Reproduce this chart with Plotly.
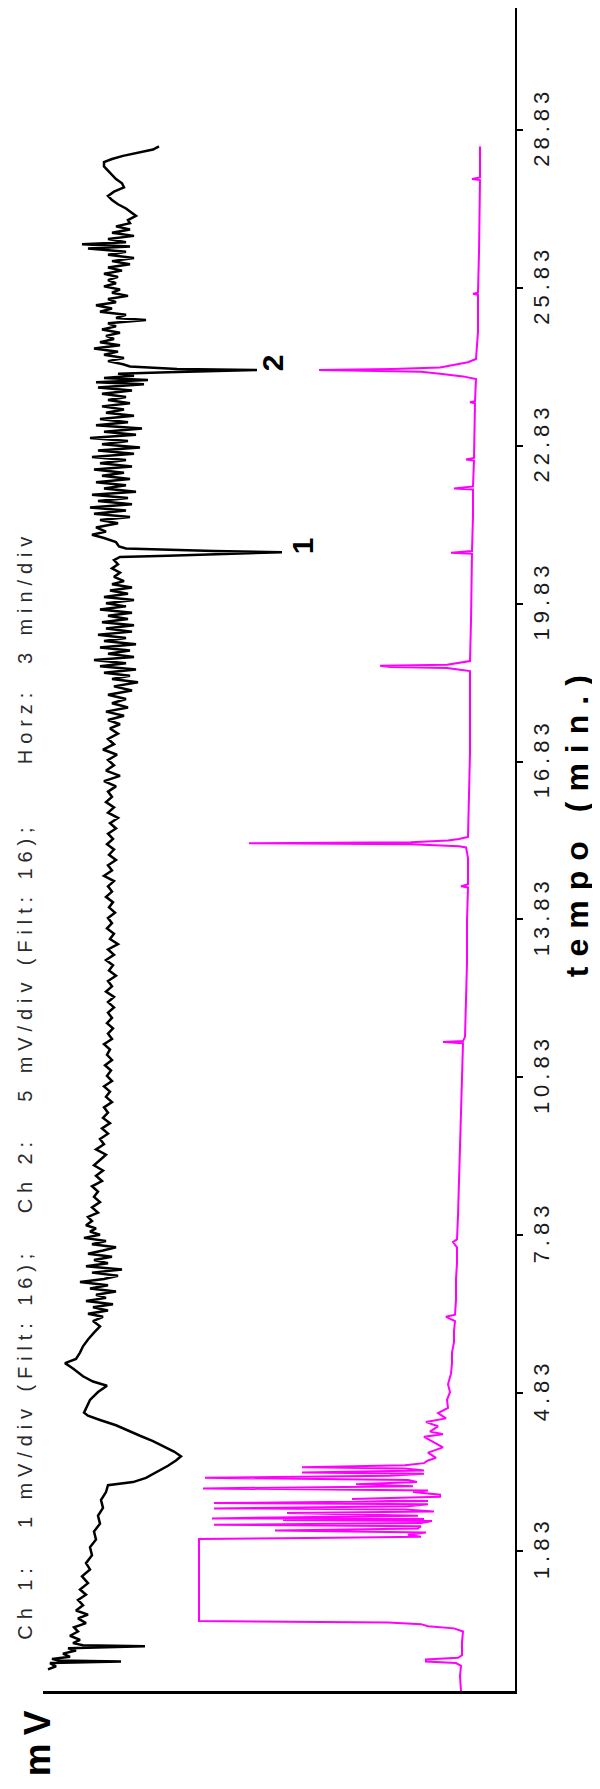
import plotly.graph_objects as go

# ---------------- data ----------------
# Ch 1 (black) : time in minutes, signal (arbitrary mV units, larger = further left)
ch1_time = [
    -0.42, -0.36, -0.30, -0.27, -0.25, -0.22, -0.18, -0.12, -0.06, -0.02, 0.02, 0.04, 0.08, 0.14, 0.22,
    0.30, 0.38, 0.46, 0.55, 0.62, 0.70, 0.80, 0.90, 1.00, 1.10, 1.22, 1.35, 1.48, 1.60, 1.75, 1.90,
    2.05, 2.20, 2.35, 2.50, 2.65, 2.80, 2.95, 3.08, 3.14, 3.22, 3.32, 3.45, 3.55, 3.63, 3.72, 3.82,
    3.92, 4.02, 4.12, 4.22, 4.32, 4.40, 4.46, 4.55, 4.70, 4.85, 4.97, 5.05, 5.15, 5.30, 5.40, 5.48,
    5.60, 5.72, 5.85, 5.98, 6.10, 6.20,
    6.28, 6.34, 6.40, 6.46, 6.52, 6.58, 6.64, 6.70, 6.76, 6.82, 6.88, 6.94, 7.00, 7.06, 7.12, 7.18,
    7.24, 7.30, 7.36, 7.42, 7.48, 7.54, 7.60, 7.66, 7.72, 7.78, 7.84, 7.90, 7.96, 8.02, 8.10, 8.18, 8.26,
    8.36, 8.46, 8.56, 8.66, 8.76, 8.86, 8.96, 9.06, 9.16, 9.26, 9.36, 9.46, 9.56, 9.66, 9.76, 9.86,
    9.96, 10.06, 10.16, 10.26, 10.36, 10.46, 10.56, 10.66, 10.76, 10.86, 10.96, 11.06, 11.16, 11.26,
    11.36, 11.46, 11.56, 11.66, 11.76, 11.86, 11.96, 12.06, 12.16,
    12.26, 12.36, 12.46, 12.56, 12.66, 12.76, 12.86, 12.96, 13.06, 13.16, 13.26, 13.36, 13.46, 13.56,
    13.66, 13.76, 13.86, 13.96, 14.06, 14.16, 14.26, 14.36, 14.46, 14.56, 14.66, 14.76, 14.86, 14.96,
    15.06, 15.16, 15.26, 15.36, 15.46, 15.56, 15.66, 15.76, 15.86, 15.96, 16.06, 16.16, 16.26, 16.36,
    16.46, 16.56, 16.66, 16.76, 16.86, 16.96, 17.06, 17.16, 17.26, 17.36, 17.46,
    17.54, 17.62, 17.70, 17.78, 17.86, 17.94, 18.02, 18.10, 18.18, 18.26, 18.34, 18.40, 18.46, 18.52,
    18.58, 18.64, 18.70, 18.76, 18.82, 18.88, 18.94, 19.00, 19.06, 19.12, 19.18, 19.24, 19.30, 19.36,
    19.42, 19.48, 19.54, 19.60, 19.66, 19.72, 19.78, 19.84, 19.90, 19.96, 20.02, 20.08, 20.14, 20.20,
    20.26, 20.34, 20.42, 20.50, 20.58, 20.66, 20.72,
    20.74, 20.77, 20.79, 20.81, 20.83, 20.85, 20.88, 20.92, 21.00, 21.08, 21.14, 21.20, 21.28, 21.36,
    21.42, 21.48, 21.54, 21.60, 21.66, 21.72, 21.78, 21.84, 21.90, 21.96, 22.02, 22.08, 22.14, 22.20,
    22.26, 22.32, 22.38, 22.44, 22.50, 22.56, 22.62, 22.68, 22.74, 22.80, 22.86, 22.92, 22.98, 23.04,
    23.10, 23.16, 23.22, 23.28, 23.34, 23.40, 23.46, 23.52, 23.58, 23.64, 23.70, 23.76, 23.82, 23.88,
    23.94, 24.00, 24.04, 24.08, 24.12, 24.16, 24.20,
    24.23, 24.25, 24.27, 24.29, 24.31, 24.34, 24.38,
    24.44, 24.50, 24.56, 24.62, 24.68, 24.74, 24.80, 24.86, 24.92, 24.98, 25.04, 25.10, 25.16, 25.22,
    25.26, 25.32, 25.38, 25.44, 25.50, 25.56, 25.62, 25.68, 25.74, 25.80, 25.86, 25.92, 25.98, 26.04,
    26.10, 26.16, 26.22, 26.28, 26.34, 26.40, 26.46, 26.52, 26.58, 26.62, 26.66, 26.70, 26.76, 26.82,
    26.88, 26.94, 27.00, 27.06, 27.12, 27.20, 27.26, 27.34, 27.42, 27.50, 27.58, 27.66, 27.74, 27.82,
    27.90, 27.98, 28.06, 28.14, 28.22, 28.28, 28.34, 28.40, 28.46, 28.52,
]
ch1_mv = [
    46.7, 45.9, 46.5, 39.4, 45.7, 46.3, 44.5, 45.2, 43.9, 44.7, 37.0, 43.2, 44.2, 43.5, 44.5,
    43.7, 44.1, 42.9, 43.7, 42.7, 43.9, 43.2, 43.7, 42.9, 43.5, 42.7, 43.3, 42.5, 42.9, 42.3, 42.5,
    41.9, 42.1, 41.5, 41.7, 41.2, 41.4, 40.9, 40.7, 38.2, 36.9, 35.9, 34.7, 33.9, 33.4, 34.1, 35.2,
    36.2, 37.5, 38.7, 39.9, 41.5, 42.7, 43.1, 42.9, 42.5, 41.7, 40.8, 42.2, 43.2, 44.2, 45.0, 43.9,
    43.5, 43.2, 42.7, 42.1, 41.5, 42.2,
    41.2, 42.7, 40.7, 42.2, 40.2, 42.9, 40.9, 41.9, 39.9, 42.5, 40.7, 43.5, 41.1, 39.7, 42.3, 39.3,
    42.9, 40.7, 42.1, 40.3, 42.7, 41.2, 39.9, 42.3, 40.9, 43.1, 41.5, 42.5, 41.9, 42.9, 42.3, 42.7, 41.7,
    42.3, 41.5, 42.1, 41.7, 42.3, 41.3, 41.9, 41.2, 42.1, 41.5, 40.9, 41.9, 41.1, 41.5, 40.7, 41.3,
    40.5, 41.2, 40.7, 41.1, 40.3, 40.9, 40.5, 41.1, 40.3, 40.8, 40.4, 41.0, 40.3, 40.8,
    40.5, 41.1, 40.3, 40.7, 40.2, 40.8, 40.3, 40.7, 40.1,
    40.7, 40.1, 40.9, 40.3, 40.7, 39.9, 40.6, 40.2, 40.9, 40.1, 40.7, 39.7, 40.5, 40.1,
    40.8, 40.3, 40.7, 40.0, 40.6, 40.2, 40.9, 40.3, 40.7, 40.1, 41.1, 40.3, 40.7, 39.9,
    40.6, 40.1, 40.8, 40.2, 40.7, 39.9, 40.5, 39.7, 40.7, 40.1, 40.9, 40.3, 40.7, 39.9,
    41.1, 39.5, 40.9, 40.1, 40.7, 39.8, 41.2, 40.1, 40.7, 39.7, 40.5,
    39.5, 40.7, 39.1, 40.9, 38.7, 40.3, 38.9, 40.7, 38.3, 40.1, 37.7, 40.3, 38.5, 41.1,
    37.9, 41.5, 38.9, 42.1, 38.1, 40.7, 38.5, 41.5, 37.9, 41.1, 38.9, 41.7, 38.3, 40.9,
    38.1, 41.3, 38.7, 40.7, 38.3, 41.5, 38.9, 40.9, 38.1, 41.1, 38.7, 40.5, 38.3, 40.3,
    39.1, 40.1, 39.5, 40.3, 39.7, 40.1, 39.5,
    34.7, 30.1, 27.9, 23.3, 30.1, 34.7, 38.9, 39.6, 39.9, 41.1, 42.3, 40.9, 41.9, 39.7,
    41.5, 38.5, 42.1, 38.9, 42.5, 38.3, 41.7, 38.7, 42.3, 37.9, 41.1, 38.9, 41.9, 38.5,
    41.3, 39.1, 42.1, 38.3, 41.5, 38.9, 42.3, 38.1, 41.7, 37.5, 41.3, 38.7, 42.5, 37.9,
    41.1, 37.3, 41.9, 38.7, 41.5, 38.1, 40.9, 39.1, 41.3, 38.5, 40.7, 38.9, 41.3, 38.3,
    41.7, 37.1, 41.9, 36.7, 41.1, 38.1, 39.7,
    34.7, 28.5, 25.8, 33.8, 36.1, 38.5, 39.2,
    40.7, 39.1, 41.1, 39.7, 42.1, 39.5, 41.5, 40.1, 40.9, 39.5, 41.3, 39.9, 40.7, 36.9,
    39.9, 38.9, 41.5, 40.3, 41.9, 39.9, 40.7, 38.7, 40.3, 39.5, 41.1, 39.9, 40.7, 39.7,
    41.1, 39.3, 40.7, 38.5, 40.3, 38.1, 40.7, 38.9, 42.7, 38.5, 43.3, 38.9, 40.7, 38.1,
    40.3, 38.5, 39.9, 38.5, 38.7, 37.9, 38.3, 38.9, 39.7, 40.3, 40.7, 40.1, 39.1, 39.3,
    39.9, 40.3, 40.7, 41.1, 41.1, 40.3, 39.2, 37.7, 36.2, 35.6,
]

# Ch 2 (magenta)
ch2_time = [
    -0.83, -0.55, -0.35, -0.30, -0.27, -0.23, -0.20, -0.15, 0.10, 0.30, 0.36, 0.40, 0.44, 0.47,
    0.50, 1.00, 1.50, 2.06, 2.08, 2.10, 2.14, 2.18, 2.22, 2.26, 2.30, 2.33, 2.36, 2.40, 2.42, 2.44,
    2.45, 2.50, 2.55, 2.58, 2.62, 2.64, 2.68, 2.72, 2.74, 2.78, 2.82, 2.86, 2.90, 2.95, 2.98, 3.02,
    3.06, 3.10, 3.14, 3.18, 3.22, 3.26, 3.30, 3.32, 3.36, 3.40, 3.42, 3.46, 3.50, 3.55, 3.60, 3.70,
    3.80, 3.90, 4.00, 4.05, 4.10, 4.20, 4.28, 4.35, 4.45, 4.55, 4.70, 4.85, 5.00, 5.20, 5.40, 5.60,
    5.80, 6.00, 6.20, 6.28, 6.32, 6.60, 7.00, 7.30, 7.60, 7.70, 7.75, 8.20, 8.80, 9.40, 10.00, 10.60,
    11.20, 11.48, 11.50, 11.52, 11.60, 12.40, 13.00, 13.80, 14.44, 14.46, 14.50, 15.00, 15.20, 15.22,
    15.24, 15.26, 15.28, 15.30, 15.33, 15.36, 15.40, 16.00, 17.00, 18.00, 18.55, 18.58, 18.61, 18.63,
    18.65, 18.67, 18.70, 18.74, 19.50, 20.50, 20.78, 20.80, 20.83, 21.50, 22.00, 22.02, 22.06, 22.55,
    22.57, 22.60, 23.64, 23.66, 23.68, 24.10, 24.15, 24.20, 24.24, 24.27, 24.29, 24.32, 24.36, 24.42,
    24.48, 25.00, 25.70, 25.72, 25.74, 26.50, 27.88, 27.90, 27.93, 28.52,
]
ch2_mv = [
    5.4, 5.5, 5.4, 5.9, 8.9, 8.9, 5.7, 5.3, 5.3, 5.2, 6.1, 8.7, 9.4, 12.7,
    31.6, 31.6, 31.6, 31.6, 18.2, 9.4, 10.7, 8.9, 24.0, 9.7, 9.4, 30.1, 9.4, 8.3, 23.2, 9.1,
    30.3, 9.7, 22.8, 8.1, 11.0, 30.1, 10.7, 8.7, 30.1, 8.7, 16.3, 7.5, 7.5, 10.2, 8.7, 31.2,
    10.2, 15.9, 9.8, 10.7, 31.0, 12.5, 9.1, 21.3, 9.1, 11.0, 21.3, 11.0, 9.1, 8.7, 7.9, 8.7,
    7.2, 8.2, 9.1, 7.2, 8.5, 7.7, 8.9, 6.9, 7.7, 6.7, 6.8, 6.5, 6.7, 6.4, 6.3, 6.3,
    6.1, 6.1, 6.0, 6.9, 6.0, 5.9, 5.9, 5.8, 5.8, 6.2, 5.8, 5.7, 5.6, 5.5, 5.4, 5.3,
    5.2, 5.2, 7.2, 5.2, 5.0, 4.9, 4.8, 4.8, 4.7, 5.4, 4.7, 4.7, 4.9, 5.6,
    8.7, 10.4, 26.6, 10.4, 6.7, 5.6, 4.7, 4.6, 4.5, 4.5, 4.5, 5.7, 6.8, 12.5,
    13.5, 6.8, 5.7, 4.5, 4.4, 4.3, 4.3, 6.4, 4.3, 4.2, 4.2, 6.1, 4.2, 4.1,
    4.9, 4.1, 4.0, 4.5, 4.0, 3.9, 5.2, 7.5, 9.4, 19.6, 12.3, 7.5, 6.2, 4.7,
    3.9, 3.7, 3.7, 4.2, 3.7, 3.6, 3.5, 4.3, 3.5, 3.5,
]

# time axis ticks
tick_vals = [1.83, 4.83, 7.83, 10.83, 13.83, 16.83, 19.83, 22.83, 25.83, 28.83]
tick_text = ["1.83", "4.83", "7.83", "10.83", "13.83", "16.83", "19.83", "22.83", "25.83", "28.83"]
time_range = [-0.83, 31.15]
mv_range = [47.2, 0]

# peak labels
peak_labels = ["1", "2"]
peak_label_time = [20.92, 24.40]
peak_label_mv = [21.3, 24.3]

header = ("Ch 1:\u00a0\u00a0\u00a01 mV/div (Filt: 16);\u00a0\u00a0\u00a0Ch 2:\u00a0\u00a0\u00a05 mV/div "
          "(Filt: 16);\u00a0\u00a0\u00a0\u00a0\u00a0Horz:\u00a0\u00a03 min/div")
time_title = "\u00a0\u00a0\u00a0<b>tempo (min.)</b>"

FONT = "Liberation Sans, Arial, sans-serif"


def spaced(text, px):
    return f'<span style="letter-spacing:{px}px">{text}</span>'


fig = go.Figure()
fig.add_trace(go.Scatter(
    x=ch2_mv, y=ch2_time, mode="lines",
    line=dict(color="#FF00FF", width=2, shape="linear"), hoverinfo="skip", name="Ch 2"))
fig.add_trace(go.Scatter(
    x=ch1_mv, y=ch1_time, mode="lines",
    line=dict(color="#000000", width=2.5, shape="linear"), hoverinfo="skip", name="Ch 1"))

fig.update_xaxes(range=mv_range, showline=True, linecolor="black", linewidth=2.5,
                 showgrid=False, zeroline=False, showticklabels=False, ticks="")
fig.update_yaxes(range=time_range, side="right", showline=True, linecolor="black", linewidth=2,
                 showgrid=False, zeroline=False, ticks="outside", ticklen=6, tickwidth=2,
                 tickcolor="black", tickvals=tick_vals,
                 ticktext=[spaced(t, 5) for t in tick_text], tickangle=-90,
                 tickfont=dict(family=FONT, size=22, color="#1a1a1a"),
                 title=dict(text=spaced(time_title, 10), standoff=12,
                            font=dict(family=FONT, size=32, color="black")))

annotations = [
    dict(text=spaced(header, 5.9), xref="paper", yref="paper", x=-0.037, y=0.36,
         xanchor="center", yanchor="middle",
         textangle=-90, showarrow=False, font=dict(family=FONT, size=20, color="#2a2a2a")),
    dict(text=spaced("<b>mV</b>", 8), xref="paper", yref="paper", x=-0.01, y=-0.0285,
         xanchor="center", yanchor="middle",
         textangle=-90, showarrow=False, font=dict(family=FONT, size=37, color="black")),
]
for lab, t, v in zip(peak_labels, peak_label_time, peak_label_mv):
    annotations.append(dict(text=f"<b>{lab}</b>", x=v, y=t, xref="x", yref="y", textangle=-90,
                            xanchor="center", yanchor="middle",
                            showarrow=False, font=dict(family=FONT, size=30, color="black")))

fig.update_layout(width=600, height=1789, margin=dict(l=35, r=93, t=0, b=106),
                  paper_bgcolor="white", plot_bgcolor="white", showlegend=False,
                  annotations=annotations)

fig.write_html("out.html", config={"displayModeBar": False})
